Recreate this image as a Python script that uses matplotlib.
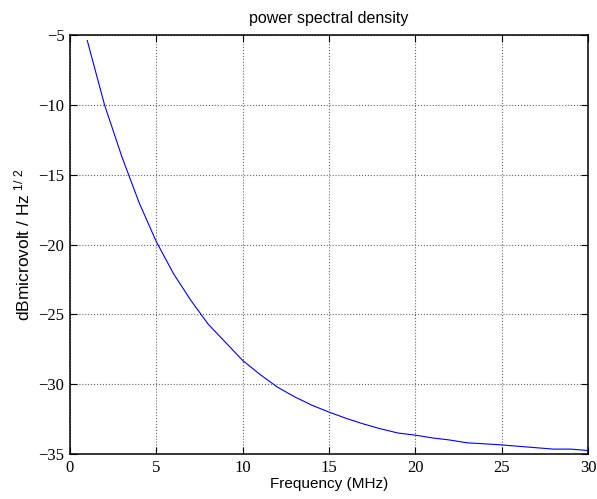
import matplotlib
matplotlib.use('Agg')
import matplotlib.pyplot as plt

# frequency in MHz and power spectral density in dB microvolt / Hz^1/2
freq = [1, 2, 3, 4, 5, 6, 7, 8, 9, 10,
        11, 12, 13, 14, 15, 16, 17, 18, 19, 20,
        21, 22, 23, 24, 25, 26, 27, 28, 29, 30]
psd = [-5.4, -10.0, -13.7, -17.0, -19.8, -22.1, -24.0, -25.7, -27.0, -28.3,
       -29.3, -30.2, -30.9, -31.5, -32.0, -32.45, -32.85, -33.2, -33.5, -33.65,
       -33.85, -34.0, -34.2, -34.27, -34.35, -34.45, -34.55, -34.65, -34.65, -34.75]

xticks = [0, 5, 10, 15, 20, 25, 30]
yticks = [-35, -30, -25, -20, -15, -10, -5]

plt.rcParams['mathtext.default'] = 'regular'

fig = plt.figure(figsize=(5.97, 4.99), dpi=100)
ax = fig.add_axes([70 / 597, 1 - 454 / 499, 518 / 597, 419 / 499])

ax.plot(freq, psd, color='blue', linewidth=0.8)

ax.set_xlim(0, 30)
ax.set_ylim(-35, -5)
ax.set_xticks(xticks)
ax.set_yticks(yticks)
ax.set_xticklabels([str(t) for t in xticks], family='Liberation Serif', fontsize=12)
ax.set_yticklabels(['\u2212' + str(-t) for t in yticks], family='Liberation Serif', fontsize=12)

ax.grid(True, linestyle=':', color='0.4', linewidth=0.8)
ax.tick_params(direction='in', top=True, right=True, length=5, width=0.8, pad=4)
for s in ax.spines.values():
    s.set_linewidth(1.1)

ax.set_title('power spectral density', family='Liberation Sans', fontsize=11.5, pad=9)
ax.set_xlabel('Frequency (MHz)', family='Liberation Sans', fontsize=11, labelpad=1)
ax.set_ylabel(r'dBmicrovolt / Hz$^{\ 1/\ 2}$', family='Liberation Sans', fontsize=12.5, labelpad=4)

fig.savefig('out.png', dpi=100)
